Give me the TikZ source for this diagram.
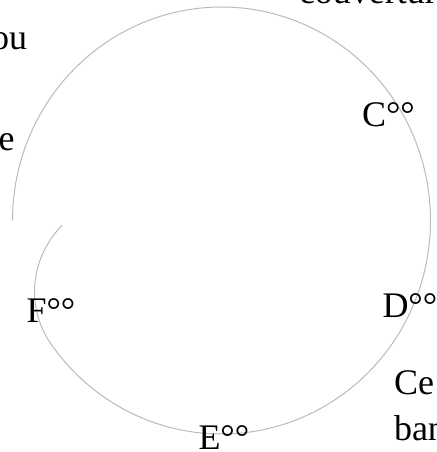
\documentclass[tikz,border=0pt]{standalone}
\usepackage{fontspec}
\setmainfont{Liberation Serif}
\begin{document}
\begin{tikzpicture}[x=1pt,y=-1pt,
  lbl/.style={inner sep=0pt, outer sep=0pt, font=\fontsize{36}{46}\selectfont, text=black},
  curve/.style={draw=black!27, line width=1pt}]
\useasboundingbox (0,0) rectangle (436,452);
\clip (0,0) rectangle (436,452);
\draw[curve] plot[domain=180:538.4, samples=300, variable=\t]
  ({221.5+209*(1-0.00021*max(0,\t-505)^2)*cos(\t)},
   {220.5+213.5*(1-0.00021*max(0,\t-505)^2)*sin(\t)});
\node[lbl, anchor=base west] (C) at (362,126) {C°°};
\node[lbl, anchor=base west] (D) at (382.5,317) {D°°};
\node[lbl, anchor=base west] (E) at (198.5,449) {E°°};
\node[lbl, anchor=base west] (F) at (26.5,322) {F°°};
\node[lbl, anchor=base west] (ce) at (394,394) {Ce};
\node[lbl, anchor=base west] (ba) at (394,440) {ban};
\node[lbl, anchor=base east] (ou) at (27,50) {ou};
\node[lbl, anchor=base east] (e) at (14.5,150) {e};
\node[lbl, anchor=base west] (cv) at (299,4) {couverture};
\end{tikzpicture}
\end{document}
